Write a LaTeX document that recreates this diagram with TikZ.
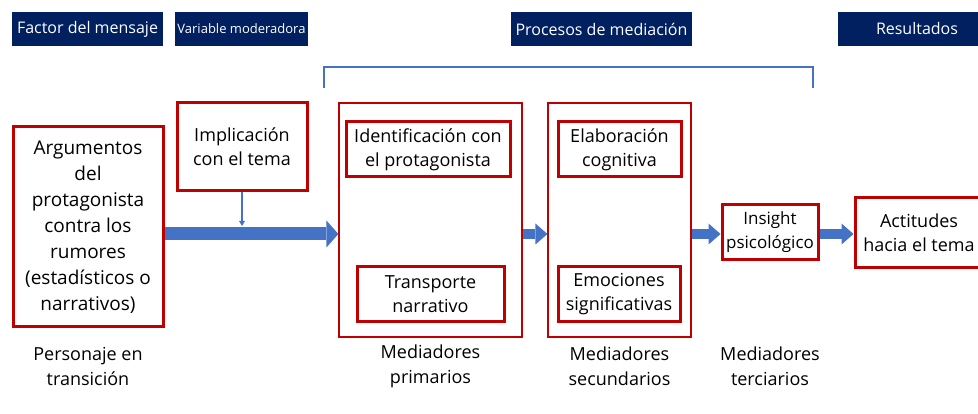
\documentclass[tikz,border=0pt]{standalone}
\usepackage{fontspec}
\setmainfont{Open Sans}
\usetikzlibrary{arrows.meta,positioning,calc}
\definecolor{navy}{HTML}{002060}
\definecolor{darkred}{HTML}{C00000}
\definecolor{flowblue}{HTML}{4472C4}

\begin{document}
\begin{tikzpicture}[x=1pt,y=-1pt,
  head/.style={fill=navy,text=white,minimum height=34pt,inner sep=0pt,
    font=\fontsize{16}{20}\selectfont},
  var/.style={draw=darkred,line width=3pt,align=center,inner sep=0pt,
    font=\fontsize{18}{24}\selectfont},
  group/.style={draw=darkred,line width=1.2pt,inner sep=0pt},
  note/.style={align=center,font=\fontsize{18}{25}\selectfont},
  flow/.style={draw=flowblue,line width=10pt,
    -{Triangle[length=12pt,width=21pt,line width=0pt]}}]
\clip (0,0) rectangle (978,414);
\useasboundingbox (0,0) rectangle (978,414);

\node[head,minimum width=151pt] (fac) at (87.5,29) {Factor del mensaje};
\node[head,minimum width=133pt,font=\fontsize{13}{16}\selectfont] (mod) at (241.5,29) {Variable moderadora};
\node[head,minimum width=181pt] (proc) at (601.5,29) {Procesos de mediación};
\node[head,minimum width=158pt] (res) at (917,29) {Resultados};
\draw[flowblue,line width=2pt] (324,88) -- (324,67) -- (813,67) -- (813,88);

\node[var,minimum width=150pt,minimum height=200pt,font=\fontsize{19}{26}\selectfont] (arg) at (88,227)
  {Argumentos\\del\\protagonista\\contra los\\rumores\\(estadísticos o\\narrativos)};
\node[var,minimum width=130pt,minimum height=88pt] (impl) at (242,147) {Implicación\\con el tema};
\node[group,minimum width=183pt,minimum height=234pt] (prim) at (430.5,220) {};
\node[group,minimum width=143pt,minimum height=234pt] (sec) at (619.5,220) {};
\node[var,minimum width=164pt,minimum height=55pt] (ident) at (428,149.5) {Identificación con\\el protagonista};
\node[var,minimum width=147pt,minimum height=55pt] (trans) at (430.5,294.5) {Transporte\\narrativo};
\node[var,minimum width=123pt,minimum height=55pt] (elab) at (619.5,149.5) {Elaboración\\cognitiva};
\node[var,minimum width=122pt,minimum height=55pt] (emo) at (619,294.5) {Emociones\\significativas};
\node[var,minimum width=96pt,minimum height=55pt,font=\fontsize{17}{24}\selectfont] (ins) at (770,232.5) {Insight\\psicológico};
\node[var,minimum width=128pt,minimum height=70pt] (act) at (919,233) {Actitudes\\hacia el tema};

\coordinate (join) at (impl.south |- 0,226);
\draw[flow,line width=13pt,-{Triangle[length=12pt,width=27pt,line width=0pt]}]
  (arg.east |- 0,234) -- (prim.west |- 0,234);
\draw[flowblue,line width=1.5pt,-{Triangle[length=5pt,width=6pt,line width=0pt]}] (impl.south) -- (join);
\draw[flow] (prim.east |- 0,234) -- (sec.west |- 0,234);
\draw[flow] (sec.east |- 0,234) -- (ins.west |- 0,234);
\draw[flow] (ins.east |- 0,234) -- (act.west |- 0,234);

\node[note] (l1) at (arg |- 0,366) {Personaje en\\transición};
\node[note] (l2) at (prim |- 0,366) {Mediadores\\primarios};
\node[note] (l3) at (sec |- 0,366) {Mediadores\\secundarios};
\node[note] (l4) at (ins |- 0,366) {Mediadores\\terciarios};
\end{tikzpicture}
\end{document}
